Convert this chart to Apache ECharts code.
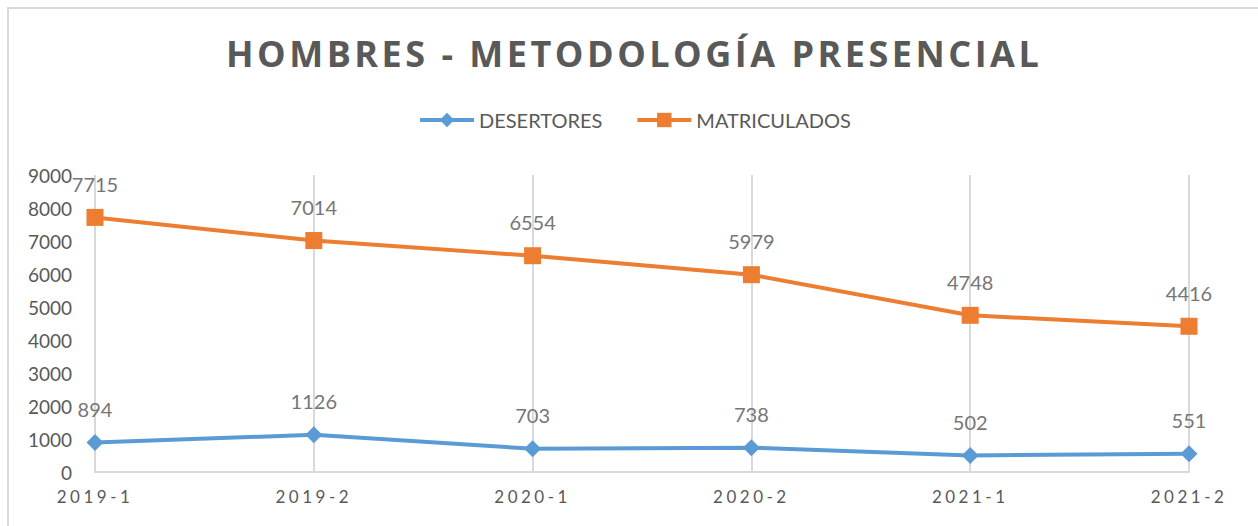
<!DOCTYPE html>
<html>
<head>
<meta charset="utf-8">
<script src="https://cdn.jsdelivr.net/npm/echarts@6/dist/echarts.min.js"></script>
<style>
    html, body { margin: 0; padding: 0; background: #fff; }
    #wrap { position: relative; width: 1258px; height: 526px; }
    #frame { position: absolute; left: 7px; top: 7px; width: 1260px; height: 518px;
             border-top: 2px solid #d9d9d9; border-left: 2px solid #d9d9d9; }
    #main { position: absolute; left: 0; top: 0; width: 1258px; height: 526px; }
</style>
</head>
<body>
<div id="wrap">
    <div id="frame"></div>
    <div id="main"></div>
</div>
<script>
var periodos = ['2019-1', '2019-2', '2020-1', '2020-2', '2021-1', '2021-2'];
var desertores = [894, 1126, 703, 738, 502, 551];
var matriculados = [7715, 7014, 6554, 5979, 4748, 4416];
var titulo = 'HOMBRES - METODOLOGÍA PRESENCIAL';

var myChart;

//espaciado de letras (solo titulo y eje x)
function aplicarEspaciado() {
    var textos = document.querySelectorAll('#main text');
    for (var i = 0; i < textos.length; i++) {
        var t = textos[i].textContent;
        if (t === titulo) {
            textos[i].style.letterSpacing = '3.5px';
        } else if (periodos.indexOf(t) >= 0) {
            textos[i].style.letterSpacing = '3.5px';
        }
    }
}

function DrawChart() {
    myChart = echarts.init(document.getElementById('main'), null, { renderer: 'svg' });
    var option = {
        animation: false,
        title: {
            text: titulo,
            left: 221,
            top: 30,
            textStyle: {
                fontFamily: 'Open Sans',
                fontWeight: 'bold',
                fontSize: 36,
                color: '#595959'
            }
        },
        legend: {
            top: 105,
            left: 413,
            itemWidth: 54,
            itemHeight: 18,
            itemGap: 33,
            lineStyle: { width: 4 },
            textStyle: {
                fontFamily: 'Lato',
                fontSize: 20,
                color: '#595959'
            },
            data: ['DESERTORES', 'MATRICULADOS']
        },
        grid: {
            left: 95,
            right: 69,
            top: 175,
            bottom: 54
        },
        xAxis: {
            type: 'category',
            boundaryGap: false,
            data: periodos,
            axisLine: { lineStyle: { color: '#d9d9d9', width: 2 } },
            axisTick: { show: false },
            splitLine: { show: true, lineStyle: { color: '#d9d9d9', width: 2 } },
            axisLabel: {
                margin: 16,
                fontFamily: 'Lato',
                fontSize: 17,
                color: '#595959'
            }
        },
        yAxis: {
            type: 'value',
            min: 0,
            max: 9000,
            interval: 1000,
            axisLine: { show: false },
            axisTick: { show: false },
            splitLine: { show: false },
            axisLabel: {
                margin: 23,
                fontFamily: 'Lato',
                fontSize: 19,
                color: '#595959',
                formatter: function (v) { return String(v); }
            }
        },
        series: [
            {
                name: 'DESERTORES',
                type: 'line',
                data: desertores,
                symbol: 'diamond',
                symbolSize: 17,
                lineStyle: { color: '#5b9bd5', width: 4 },
                itemStyle: { color: '#5b9bd5' },
                label: {
                    show: true,
                    position: 'top',
                    distance: 15,
                    fontFamily: 'Lato',
                    fontSize: 20,
                    color: '#767676'
                }
            },
            {
                name: 'MATRICULADOS',
                type: 'line',
                data: matriculados,
                symbol: 'rect',
                symbolSize: 17,
                lineStyle: { color: '#ed7d31', width: 4 },
                itemStyle: { color: '#ed7d31' },
                label: {
                    show: true,
                    position: 'top',
                    distance: 15,
                    fontFamily: 'Lato',
                    fontSize: 20,
                    color: '#767676'
                }
            }
        ]
    };
    myChart.on('finished', aplicarEspaciado);
    myChart.setOption(option);
    aplicarEspaciado();
}

DrawChart();
</script>
</body>
</html>
